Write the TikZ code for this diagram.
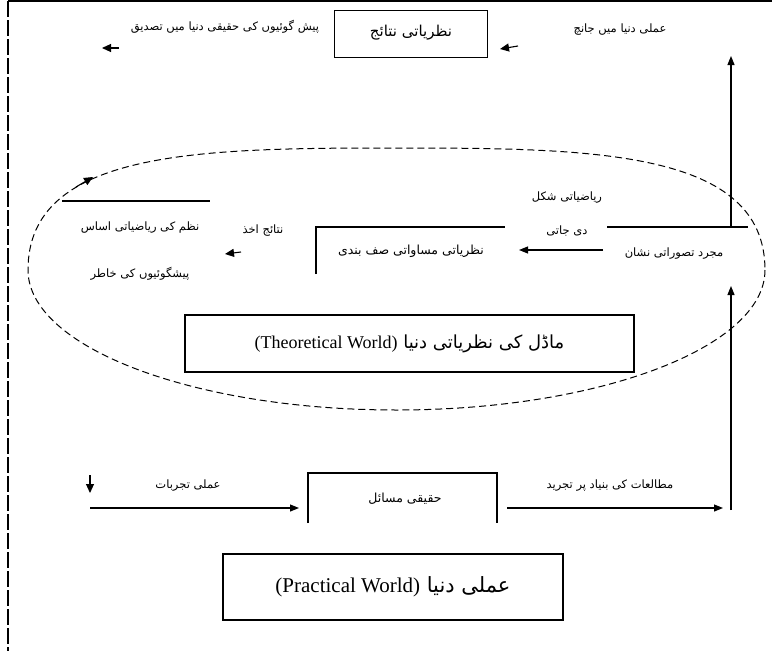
\documentclass[tikz,border=0pt]{standalone}
\usepackage{fontspec}
\setmainfont{Liberation Serif}
\newfontfamily\urdu[Script=Arabic]{DejaVu Sans}
\TeXXeTstate=1
\usetikzlibrary{arrows.meta}
\newcommand{\ur}[1]{\beginR #1\endR}
\newcommand{\lat}[1]{\beginL{\rmfamily #1}\endL}
\begin{document}
\begin{tikzpicture}[x=1pt,y=-1pt,
  txt/.style={font=\urdu\fontsize{11.5}{13}\selectfont, inner sep=1pt},
  boxed/.style={draw, line width=1.1pt, inner sep=0pt},
  edge/.style={line width=1.1pt},
  conn/.style={line width=1.1pt, -{Triangle[length=9pt,width=7pt]}},
  tip/.style={line width=1.1pt, -{Triangle[length=9pt,width=8pt]}},
  ell/.style={line width=1pt, dash pattern=on 7pt off 4pt},
  border/.style={line width=1.1pt, dash pattern=on 16pt off 3pt}]
\useasboundingbox (0,0) rectangle (772,651);
% frame
\coordinate (fTR) at (772,1); \coordinate (fTL) at (8,1); \coordinate (fBL) at (8,651);
\draw[edge] (fTR) -- (fTL);
\draw[border] (fTL) -- (fBL);
% ellipse (theoretical world)
\draw[ell] (765,270) .. controls (765,347) and (600,410) .. (396.5,410)
  .. controls (193,410) and (28,347) .. (28,270)
  .. controls (28,150) and (200,148) .. (396.5,148)
  .. controls (593,148) and (765,150) .. (765,270);
\coordinate (e1) at (76,187); \coordinate (e2) at (93,177);
\draw[tip] (e1) -- (e2);
% top row
\node[boxed, minimum width=153pt, minimum height=47pt] (top) at (411,34) {};
\node[txt, font=\urdu\fontsize{15}{17}\selectfont] (topt) at (411,33) {\ur{نظریاتی نتائج}};
\node[txt] (topL) at (225,27) {\ur{پیش گوئیوں کی حقیقی دنیا میں تصدیق}};
\node[txt] (topR) at (620,30) {\ur{عملی دنیا میں جانچ}};
\coordinate (tl1) at (119,48); \coordinate (tl2) at (102,48);
\draw[tip] (tl1) -- (tl2);
\coordinate (tr1) at (518,46); \coordinate (tr2) at (500,49);
\draw[tip] (tr1) -- (tr2);
% right column
\coordinate (rv1) at (731,227); \coordinate (rv2) at (731,56);
\draw[conn] (rv1) -- (rv2);
\coordinate (rbL) at (607,227); \coordinate (rbR) at (748,227);
\draw[edge] (rbL) -- (rbR);
\node[txt] (rb) at (674,254) {\ur{مجرد تصوراتی نشان}};
\coordinate (a1) at (603,250); \coordinate (a2) at (519,250);
\draw[conn] (a1) -- (a2);
\node[txt] (al1) at (567,198) {\ur{ریاضیاتی شکل}};
\node[txt] (al2) at (567,231) {\ur{دی جاتی}};
% middle open box
\coordinate (mBL) at (316,274); \coordinate (mTL) at (316,227); \coordinate (mTR) at (505,227);
\draw[edge] (mBL) -- (mTL) -- (mTR);
\node[txt, font=\urdu\fontsize{12.5}{14}\selectfont] (mid) at (411,251) {\ur{نظریاتی مساواتی صف بندی}};
% left open box
\coordinate (lTL) at (62,201); \coordinate (lTR) at (210,201);
\draw[edge] (lTL) -- (lTR);
\node[txt] (lb1) at (140,228) {\ur{نظم کی ریاضیاتی اساس}};
\node[txt] (lb2) at (140,274) {\ur{پیشگوئیوں کی خاطر}};
\node[txt] (ll) at (263,231) {\ur{نتائج اخذ}};
\coordinate (n1) at (241,252); \coordinate (n2) at (225,254);
\draw[tip] (n1) -- (n2);
% theoretical world box
\node[boxed, minimum width=449pt, minimum height=57pt] (theo) at (409.5,343.5) {};
\node[txt, font=\urdu\fontsize{18}{20}\selectfont] (theot) at (409.5,343.5) {\ur{ماڈل کی نظریاتی دنیا \lat{(Theoretical World)}}};
% bottom row
\coordinate (d1) at (90,475); \coordinate (d2) at (90,493);
\draw[tip] (d1) -- (d2);
\node[txt] (bl) at (188,486) {\ur{عملی تجربات}};
\coordinate (b1) at (90,508); \coordinate (b2) at (299,508);
\draw[conn] (b1) -- (b2);
\coordinate (bbL) at (308,523); \coordinate (bbTL) at (308,473);
\coordinate (bbTR) at (497,473); \coordinate (bbR) at (497,523);
\draw[edge] (bbL) -- (bbTL) -- (bbTR) -- (bbR);
\node[txt, font=\urdu\fontsize{12.5}{14}\selectfont] (bb) at (405,499) {\ur{حقیقی مسائل}};
\coordinate (c1) at (507,508); \coordinate (c2) at (723,508);
\draw[conn] (c1) -- (c2);
\node[txt] (br) at (610,486) {\ur{مطالعات کی بنیاد پر تجرید}};
\coordinate (u1) at (731,510); \coordinate (u2) at (731,286);
\draw[conn] (u1) -- (u2);
% practical world box
\node[boxed, minimum width=340pt, minimum height=66pt] (prac) at (393,587) {};
\node[txt, font=\urdu\fontsize{21}{23}\selectfont] (pract) at (393,587) {\ur{عملی دنیا \lat{(Practical World)}}};
\end{tikzpicture}
\end{document}
